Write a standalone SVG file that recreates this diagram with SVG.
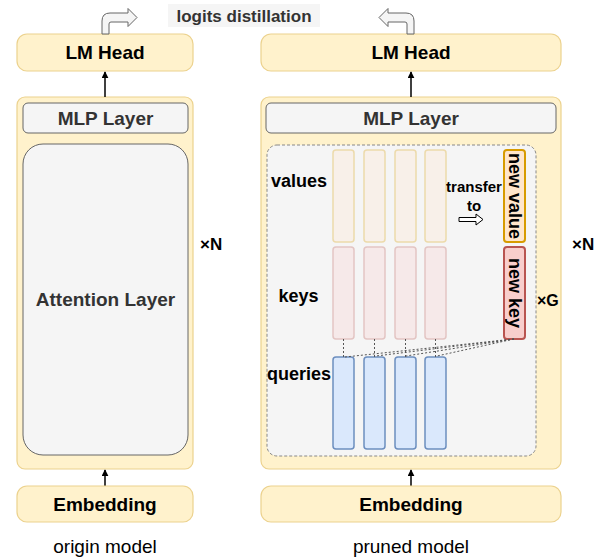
<svg xmlns="http://www.w3.org/2000/svg" width="602" height="558" viewBox="0 0 602 558">
<style>
text{font-family:"Liberation Sans",Arial,Helvetica,sans-serif;font-weight:bold;fill:#000;dominant-baseline:central}
.c{text-anchor:middle}
.big{font-size:19px}
.gray{fill:#333}
.yel{fill:#fff2cc;stroke:#ecd28e;stroke-width:1.2}
.gbox{fill:#f5f5f5;stroke:#666;stroke-width:1}
.val{fill:#f8f0e9;stroke:#ecdaab;stroke-width:1.5}
.key{fill:#f6e9e9;stroke:#e3c5c3;stroke-width:1.5}
.qry{fill:#dae8fc;stroke:#6c8ebf;stroke-width:1.5}
.dot{stroke:#555;stroke-width:1;stroke-dasharray:2 2;fill:none}
.arr{stroke:#000;stroke-width:1.5;fill:none;marker-end:url(#ah)}
.bent{fill:#f5f5f5;stroke:#666;stroke-width:1}
</style>
<defs>
<marker id="ah" viewBox="0 0 10 10" refX="9" refY="5" markerWidth="7" markerHeight="7" markerUnits="userSpaceOnUse" orient="auto">
<path d="M0,0 L10,5 L0,10 Z" fill="#000"/>
</marker>
</defs>

<g id="logits-label">
<rect x="168" y="4" width="152" height="23" fill="#f5f5f5"/>
<text x="244" y="16" class="c gray" font-size="17">logits distillation</text>
</g>

<g id="origin-lmhead">
<rect x="17" y="34" width="176" height="37" rx="10" class="yel"/>
<text x="105" y="52.5" class="c big">LM Head</text>
</g>
<g id="pruned-lmhead">
<rect x="261" y="34" width="300" height="37" rx="10" class="yel"/>
<text x="411" y="52.5" class="c big">LM Head</text>
</g>

<g id="origin-block">
<rect x="17" y="97" width="176" height="372" rx="8" class="yel"/>
</g>
<g id="origin-mlp">
<rect x="23" y="103" width="165" height="30" rx="5" class="gbox"/>
<text x="105.5" y="118" class="c big gray">MLP Layer</text>
</g>
<g id="origin-attn">
<rect x="23" y="144" width="165" height="311" rx="20" class="gbox"/>
<text x="105.5" y="299" class="c big gray">Attention Layer</text>
</g>
<g id="origin-xn"><text x="200" y="244" font-size="17">×N</text></g>

<g id="pruned-block">
<rect x="261" y="97" width="300" height="372" rx="8" class="yel"/>
</g>
<g id="pruned-mlp">
<rect x="266" y="103" width="290" height="30" rx="5" class="gbox"/>
<text x="411" y="118" class="c big gray">MLP Layer</text>
</g>
<g id="pruned-attn">
<rect x="267" y="145" width="269" height="311" rx="10" fill="#f5f5f5" stroke="#888" stroke-width="1" stroke-dasharray="3 2"/>
</g>
<g id="pruned-xn"><text x="572" y="244" font-size="17">×N</text></g>
<g id="xg"><text x="537" y="300" font-size="16">×G</text></g>

<g id="values">
<text x="299" y="181" class="c" font-size="18">values</text>
<rect x="333" y="150" width="21" height="92" rx="3" class="val"/>
<rect x="364" y="150" width="21" height="92" rx="3" class="val"/>
<rect x="395" y="150" width="21" height="92" rx="3" class="val"/>
<rect x="425" y="150" width="21" height="92" rx="3" class="val"/>
</g>
<g id="keys">
<text x="298.5" y="296" class="c" font-size="18">keys</text>
<rect x="333" y="247" width="21" height="92" rx="3" class="key"/>
<rect x="364" y="247" width="21" height="92" rx="3" class="key"/>
<rect x="395" y="247" width="21" height="92" rx="3" class="key"/>
<rect x="425" y="247" width="21" height="92" rx="3" class="key"/>
</g>
<g id="queries">
<text x="299" y="374" class="c" font-size="18">queries</text>
<rect x="333" y="357" width="21" height="92" rx="3" class="qry"/>
<rect x="364" y="357" width="21" height="92" rx="3" class="qry"/>
<rect x="395" y="357" width="21" height="92" rx="3" class="qry"/>
<rect x="425" y="357" width="21" height="92" rx="3" class="qry"/>
</g>
<g id="new-value">
<rect x="504" y="150" width="21" height="92" rx="3" fill="#ffe6cc" stroke="#d79b00" stroke-width="2"/>
<text transform="translate(514.5,196) rotate(90)" class="c" font-size="18">new value</text>
</g>
<g id="new-key">
<rect x="504" y="247" width="21" height="92" rx="3" fill="#f8cecc" stroke="#b85450" stroke-width="2"/>
<text transform="translate(514.5,293) rotate(90)" class="c" font-size="18">new key</text>
</g>
<g id="transfer">
<text x="474" y="186" class="c" font-size="15">transfer</text>
<text x="474" y="205" class="c" font-size="15">to</text>
<path d="M459,217.5 L476,217.5 L476,214 L483,219.5 L476,225 L476,221.5 L459,221.5 Z" fill="#fff" stroke="#000" stroke-width="1"/>
</g>

<g id="connectors">
<line x1="105" y1="97" x2="105" y2="72" class="arr"/>
<line x1="411" y1="97" x2="411" y2="72" class="arr"/>
<line x1="105" y1="486" x2="105" y2="470" class="arr"/>
<line x1="411" y1="486" x2="411" y2="470" class="arr"/>
<path d="M102,34 L102,21 Q102,13 110,13 L128,13 L128,8.5 L137,17.5 L128,26.5 L128,22 L111,22 Q109,22 109,24 L109,34 Z" class="bent"/>
<path d="M414,34 L414,21 Q414,13 406,13 L388,13 L388,8.5 L379,17.5 L388,26.5 L388,22 L405,22 Q407,22 407,24 L407,34 Z" class="bent"/>
<line x1="343.5" y1="339" x2="343.5" y2="357" class="dot"/>
<line x1="374.5" y1="339" x2="374.5" y2="357" class="dot"/>
<line x1="405.5" y1="339" x2="405.5" y2="357" class="dot"/>
<line x1="435.5" y1="339" x2="435.5" y2="357" class="dot"/>
<line x1="514" y1="339" x2="345" y2="357" class="dot"/>
<line x1="514" y1="339" x2="376" y2="356" class="dot"/>
<line x1="514" y1="339" x2="406" y2="356" class="dot"/>
<line x1="514" y1="339" x2="437" y2="356" class="dot"/>
</g>

<g id="origin-embedding">
<rect x="17" y="486" width="176" height="36" rx="10" class="yel"/>
<text x="105" y="504" class="c big">Embedding</text>
</g>
<g id="pruned-embedding">
<rect x="261" y="486" width="300" height="36" rx="10" class="yel"/>
<text x="411" y="504" class="c big">Embedding</text>
</g>
<g id="captions">
<text x="105" y="546" class="c" font-size="19" font-weight="normal" style="font-weight:normal">origin model</text>
<text x="411" y="546" class="c" font-size="19" style="font-weight:normal">pruned model</text>
</g>
</svg>
